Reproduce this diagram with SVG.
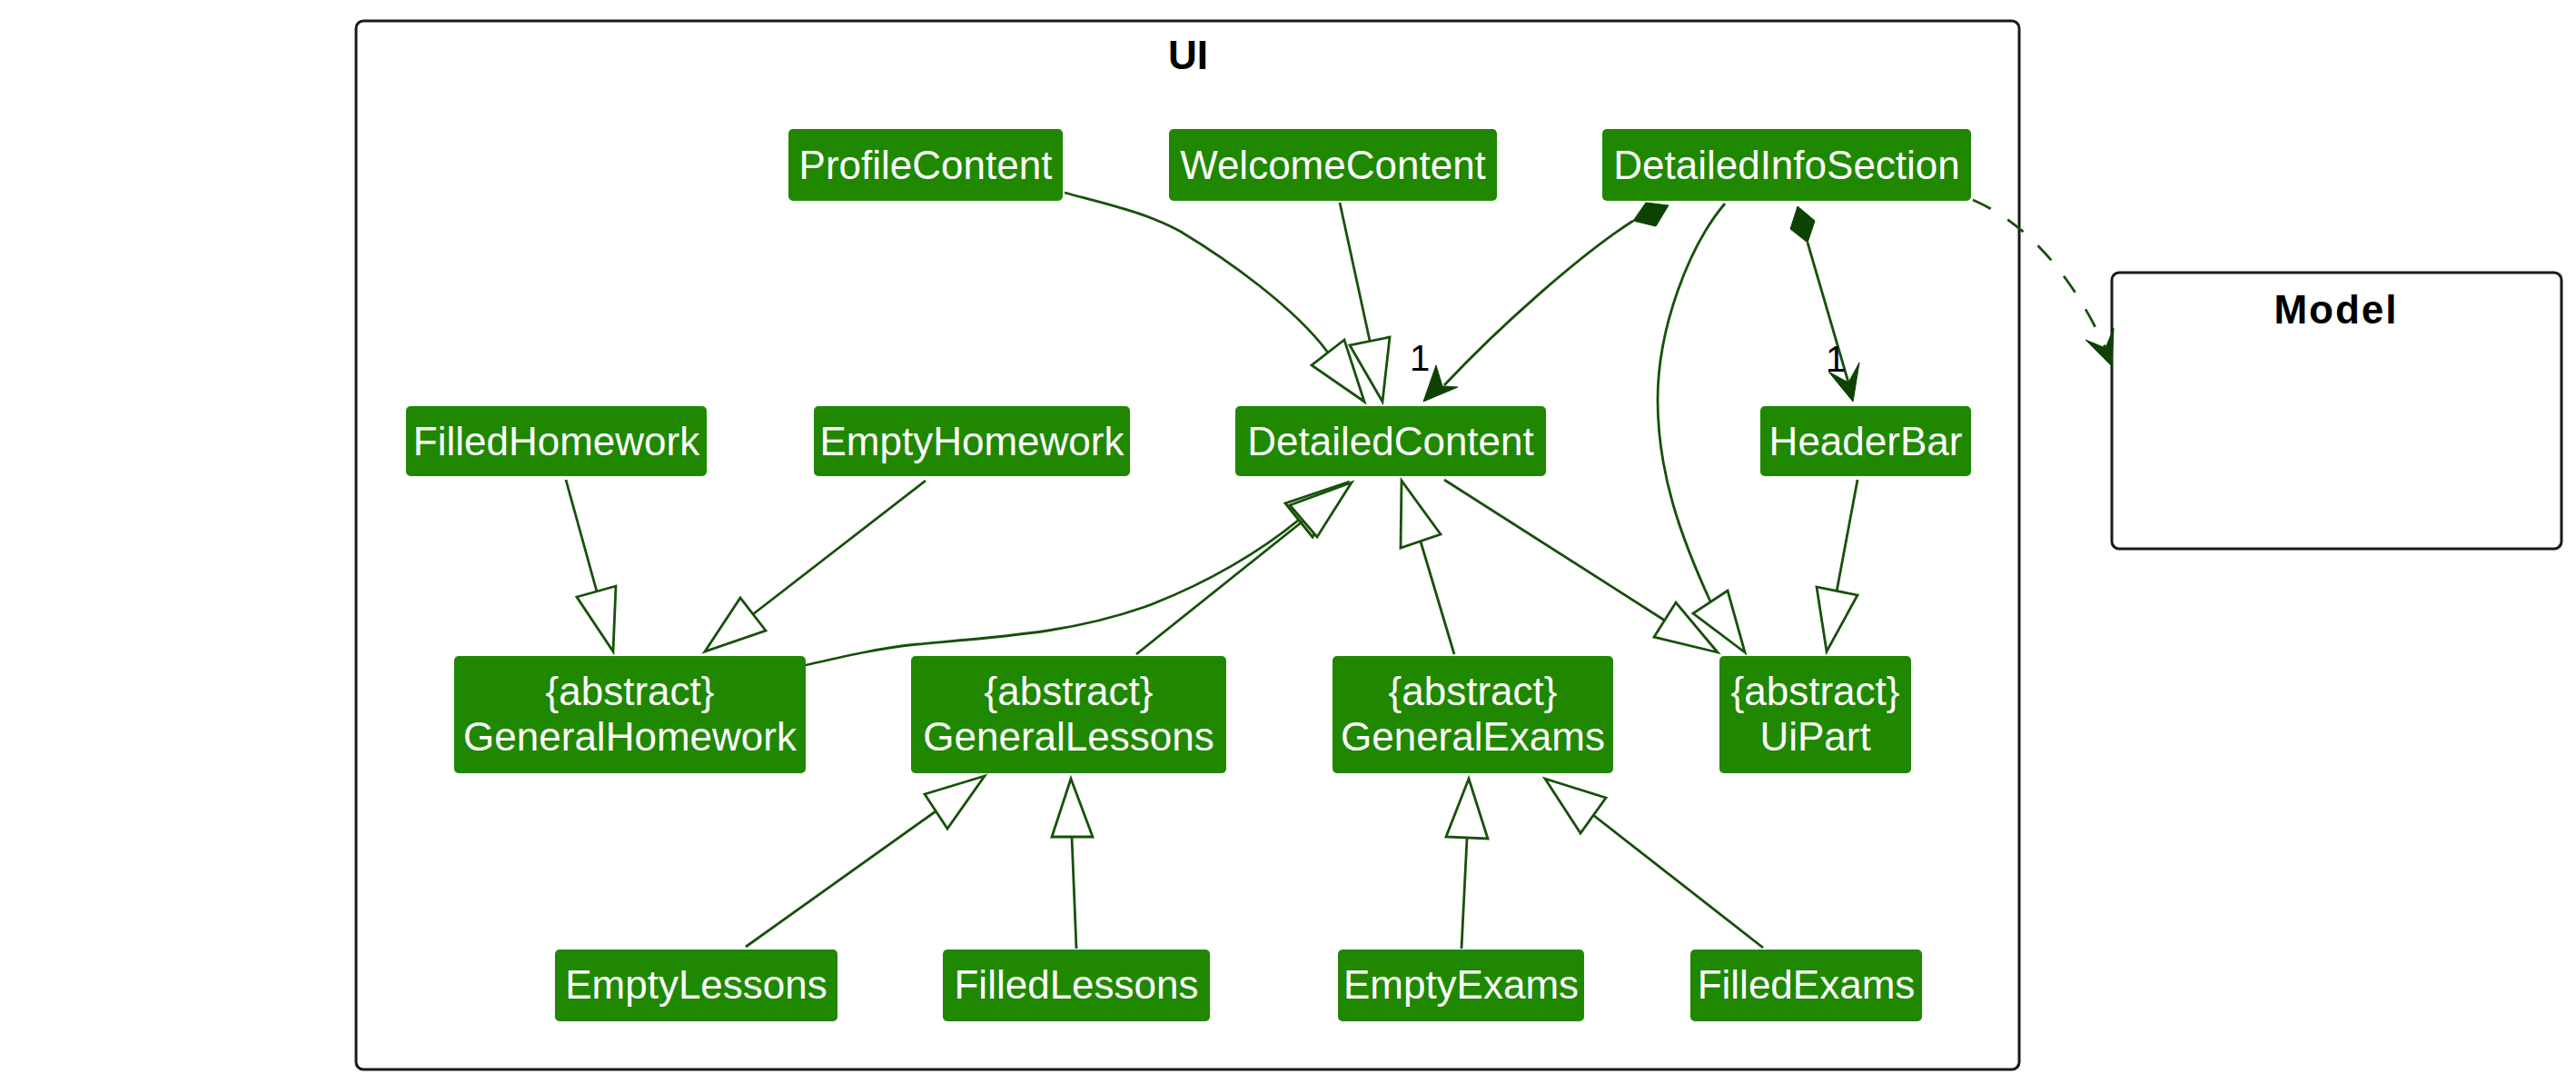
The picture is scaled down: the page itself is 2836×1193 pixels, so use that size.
<svg xmlns="http://www.w3.org/2000/svg" width="2836" height="1193" viewBox="0 0 2836 1193">
<style>
.frame{fill:none;stroke:#1A1A1A;stroke-width:3}
.ftitle{font-family:"Liberation Sans",Arial,sans-serif;font-size:44px;font-weight:bold;fill:#000;text-anchor:middle}
.node rect{fill:#1F8800;stroke:none}
.node text{font-family:"Liberation Sans",Arial,sans-serif;font-size:44px;fill:#FFFFFF;text-anchor:middle}
.edge{fill:none;stroke:#17500A;stroke-width:2.8}
.tri{fill:#FFFFFF;stroke:#17500A;stroke-width:2.8;stroke-linejoin:miter}
.head{fill:#0E4200;stroke:#0E4200;stroke-width:1}
.dash{stroke-dasharray:22,22}
.lbl{font-family:"Liberation Sans",Arial,sans-serif;font-size:40px;fill:#000;text-anchor:middle}
</style>
<rect x="0" y="0" width="2836" height="1193" fill="#FFFFFF"/>
<g id="pkg-UI">
<rect class="frame" x="392" y="23" width="1831" height="1154" rx="8"/>
<text class="ftitle" x="1308" y="76">UI</text>
</g>
<g id="pkg-Model">
<rect class="frame" x="2325" y="300" width="495" height="304" rx="8"/>
<text class="ftitle" x="2572" y="356" letter-spacing="2">Model</text>
</g>
<g id="ProfileContent" class="node"><rect x="868" y="142" width="302" height="79" rx="5"/><text x="1019" y="197">ProfileContent</text></g>
<g id="WelcomeContent" class="node"><rect x="1287" y="142" width="361" height="79" rx="5"/><text x="1467.5" y="197">WelcomeContent</text></g>
<g id="DetailedInfoSection" class="node"><rect x="1764" y="142" width="406" height="79" rx="5"/><text x="1967" y="197">DetailedInfoSection</text></g>
<g id="FilledHomework" class="node"><rect x="447" y="447" width="331" height="77" rx="5"/><text x="612.5" y="501">FilledHomework</text></g>
<g id="EmptyHomework" class="node"><rect x="896" y="447" width="348" height="77" rx="5"/><text x="1070" y="501">EmptyHomework</text></g>
<g id="DetailedContent" class="node"><rect x="1360" y="447" width="342" height="77" rx="5"/><text x="1531" y="501">DetailedContent</text></g>
<g id="HeaderBar" class="node"><rect x="1938" y="447" width="232" height="77" rx="5"/><text x="2054" y="501">HeaderBar</text></g>
<g id="GeneralHomework" class="node"><rect x="500" y="722" width="387" height="129" rx="5"/><text x="693.5" y="776">{abstract}</text><text x="693.5" y="826">GeneralHomework</text></g>
<g id="GeneralLessons" class="node"><rect x="1003" y="722" width="347" height="129" rx="5"/><text x="1176.5" y="776">{abstract}</text><text x="1176.5" y="826">GeneralLessons</text></g>
<g id="GeneralExams" class="node"><rect x="1467" y="722" width="309" height="129" rx="5"/><text x="1621.5" y="776">{abstract}</text><text x="1621.5" y="826">GeneralExams</text></g>
<g id="UiPart" class="node"><rect x="1893" y="722" width="211" height="129" rx="5"/><text x="1998.5" y="776">{abstract}</text><text x="1998.5" y="826">UiPart</text></g>
<g id="EmptyLessons" class="node"><rect x="611" y="1045" width="311" height="79" rx="5"/><text x="766.5" y="1099">EmptyLessons</text></g>
<g id="FilledLessons" class="node"><rect x="1038" y="1045" width="294" height="79" rx="5"/><text x="1185" y="1099">FilledLessons</text></g>
<g id="EmptyExams" class="node"><rect x="1473" y="1045" width="271" height="79" rx="5"/><text x="1608.5" y="1099">EmptyExams</text></g>
<g id="FilledExams" class="node"><rect x="1861" y="1045" width="255" height="79" rx="5"/><text x="1988.5" y="1099">FilledExams</text></g>
<g id="connectors">
<!-- ProfileContent -> DetailedContent -->
<path class="edge" d="M1172,212 C1220,225 1265,235 1300,255 C1350,285 1425,338 1462,388"/>
<polygon class="tri" points="1502,442 1444,402 1480,374"/>
<!-- WelcomeContent -> DetailedContent -->
<path class="edge" d="M1475,223 L1508,375"/>
<polygon class="tri" points="1522,442 1486,380 1530,371"/>
<!-- DetailedInfoSection *-> DetailedContent -->
<path class="edge" d="M1798,243 C1740,280 1650,360 1590,424"/>
<polygon class="head" points="1812,223 1837,226 1823,249 1798,243"/>
<polygon class="head" points="1567,442 1581,402 1588,425 1605,426"/>
<text class="lbl" x="1563" y="408">1</text>
<!-- DetailedInfoSection *-> HeaderBar -->
<path class="edge" d="M1990,267 L2035,421"/>
<polygon class="head" points="1979,227 1998,243 1990,267 1971,252"/>
<polygon class="head" points="2040,442 2013,409 2035,421 2047,399"/>
<text class="lbl" x="2021" y="409">1</text>
<!-- DetailedInfoSection ..> Model -->
<path class="edge dash" d="M2172,220 C2230,245 2280,300 2318,383"/>
<polygon class="head" points="2325,403 2296,374 2318,383 2327,361"/>
<!-- DetailedInfoSection -> UiPart -->
<path class="edge" d="M1899,224 C1860,270 1825,360 1825,440 C1825,520 1850,590 1883,662"/>
<polygon class="tri" points="1921,718 1864,675 1902,650"/>
<!-- HeaderBar -> UiPart -->
<path class="edge" d="M2045,528 L2022,651"/>
<polygon class="tri" points="2011,717 2000,646 2045,655"/>
<!-- DetailedContent -> UiPart -->
<path class="edge" d="M1590,528 L1833,683"/>
<polygon class="tri" points="1891,718 1821,701 1845,663"/>
<!-- FilledHomework -> GeneralHomework -->
<path class="edge" d="M623,528 L657,651"/>
<polygon class="tri" points="675,717 635,657 678,645"/>
<!-- EmptyHomework -> GeneralHomework -->
<path class="edge" d="M1019,529 L829,676"/>
<polygon class="tri" points="776,717 815,658 843,694"/>
<!-- GeneralHomework -> DetailedContent -->
<path class="edge" d="M887,732 C930,722 970,713 1010,709 C1110,700 1180,696 1260,668 C1330,642 1390,605 1430,572"/>
<polygon class="tri" points="1483,531 1415,554 1445,591"/>
<!-- GeneralLessons -> DetailedContent -->
<path class="edge" d="M1251,720 L1435,573"/>
<polygon class="tri" points="1488,531 1420,556 1450,591"/>
<!-- GeneralExams -> DetailedContent -->
<path class="edge" d="M1601,720 L1564,596"/>
<polygon class="tri" points="1543,529 1542,603 1586,588"/>
<!-- EmptyLessons -> GeneralLessons -->
<path class="edge" d="M821,1042 L1030,893"/>
<polygon class="tri" points="1084,854 1018,874 1043,912"/>
<!-- FilledLessons -> GeneralLessons -->
<path class="edge" d="M1185,1044 L1180,921"/>
<polygon class="tri" points="1179,857 1158,921 1203,921"/>
<!-- EmptyExams -> GeneralExams -->
<path class="edge" d="M1609,1044 L1615,923"/>
<polygon class="tri" points="1617,857 1592,921 1638,923"/>
<!-- FilledExams -> GeneralExams -->
<path class="edge" d="M1941,1043 L1754,897"/>
<polygon class="tri" points="1701,857 1768,878 1740,917"/>
</g>
</svg>
